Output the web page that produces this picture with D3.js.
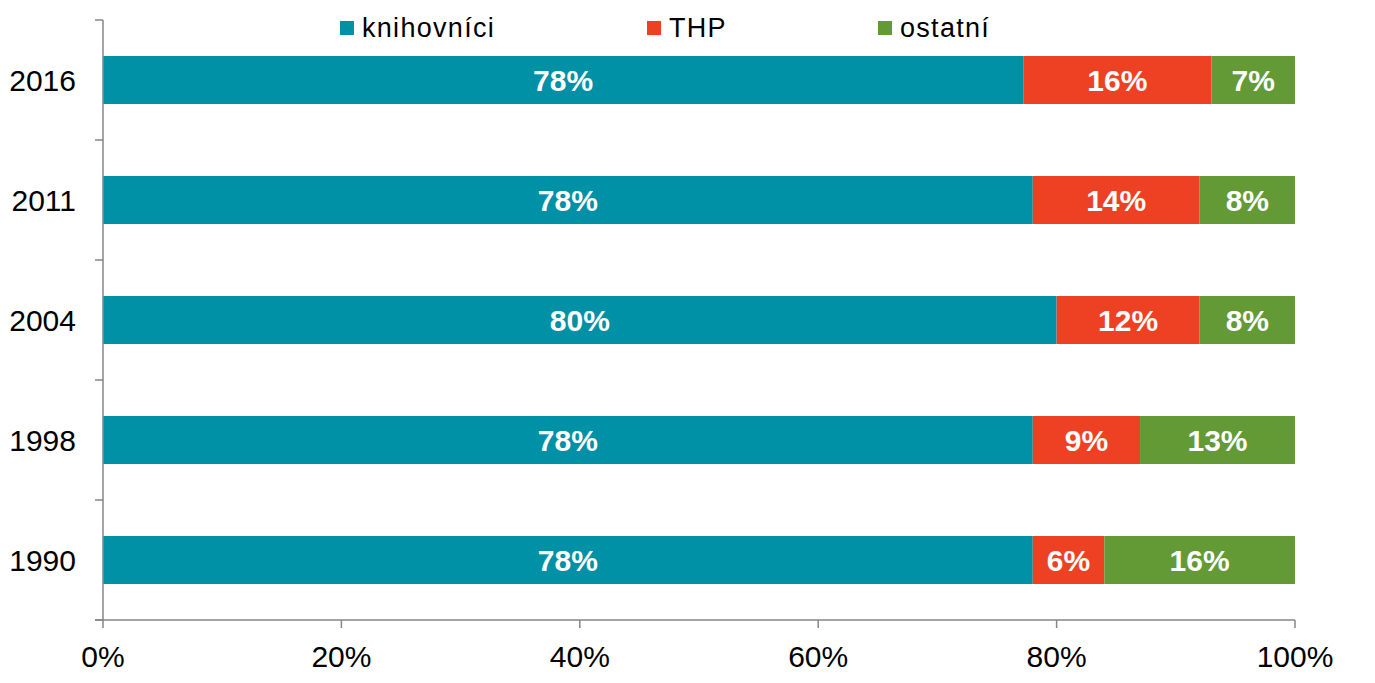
<!DOCTYPE html>
<html>
<head>
<meta charset="utf-8">
<script src="https://cdn.jsdelivr.net/npm/d3@7"></script>
<style>
  body { margin: 0; background: #fff; }
  text { font-family: "Liberation Sans", Arial, sans-serif; }
</style>
</head>
<body>
<div id="chart"></div>
<script>
// data (bar lengths) and the printed labels
let years = ['2016', '2011', '2004', '1998', '1990']
let series = ['knihovníci', 'THP', 'ostatní']
let knihovnici = [77.2, 78, 80, 78, 78]
let thp = [15.8, 14, 12, 9, 6]
let ostatni = [7.0, 8, 8, 13, 16]
let knihovniciLabels = ['78%', '78%', '80%', '78%', '78%']
let thpLabels = ['16%', '14%', '12%', '9%', '6%']
let ostatniLabels = ['7%', '8%', '8%', '13%', '16%']
let xTicks = [0, 20, 40, 60, 80, 100]

let colors = ['#0091a7', '#ee4124', '#649a36']

let width = 1375
let height = 683
let margin = { top: 20, left: 103, right: 80, bottom: 63 }

let svg = d3.select('#chart')
  .append('svg')
  .attr('width', width)
  .attr('height', height)

let xScale = d3.scaleLinear().domain([0, 100]).range([margin.left, width - margin.right])
let yScale = d3.scaleBand()
  .domain(years)
  .range([margin.top, height - margin.bottom])
  .paddingInner(0.6)
  .paddingOuter(0.3)

let rows = years.map((y, i) => ({
  year: y,
  values: [knihovnici[i], thp[i], ostatni[i]],
  labels: [knihovniciLabels[i], thpLabels[i], ostatniLabels[i]]
}))

let stacked = rows.map(r => {
  let start = 0
  return r.values.map((v, j) => {
    let seg = { year: r.year, x0: start, x1: start + v, label: r.labels[j], color: colors[j] }
    start += v
    return seg
  })
}).flat()

svg.append('g')
  .selectAll('rect')
  .data(stacked)
  .enter().append('rect')
  .attr('x', d => xScale(d.x0))
  .attr('width', d => xScale(d.x1) - xScale(d.x0))
  .attr('y', d => yScale(d.year))
  .attr('height', yScale.bandwidth())
  .attr('fill', d => d.color)

svg.append('g')
  .selectAll('text')
  .data(stacked)
  .enter().append('text')
  .attr('x', d => (xScale(d.x0) + xScale(d.x1)) / 2)
  .attr('y', d => yScale(d.year) + yScale.bandwidth() / 2 + 11)
  .attr('text-anchor', 'middle')
  .attr('fill', '#fff')
  .attr('font-weight', 'bold')
  .attr('font-size', 30)
  .text(d => d.label)

// axes
let axisColor = '#868686'
let step = yScale.step()
let bounds = d3.range(years.length + 1).map(i => margin.top + i * step)

let axes = svg.append('g').attr('stroke', axisColor).attr('stroke-width', 1.5)

axes.append('line')
  .attr('x1', xScale(0)).attr('x2', xScale(0))
  .attr('y1', margin.top).attr('y2', bounds[bounds.length - 1])

axes.selectAll('.ytick')
  .data(bounds)
  .enter().append('line')
  .attr('x1', xScale(0) - 8).attr('x2', xScale(0))
  .attr('y1', d => d).attr('y2', d => d)

let xAxisY = bounds[bounds.length - 1]
axes.append('line')
  .attr('x1', xScale(0) - 8).attr('x2', xScale(100))
  .attr('y1', xAxisY).attr('y2', xAxisY)

axes.selectAll('.xtick')
  .data(xTicks)
  .enter().append('line')
  .attr('x1', d => xScale(d)).attr('x2', d => xScale(d))
  .attr('y1', xAxisY).attr('y2', xAxisY + 8)

svg.append('g')
  .selectAll('text')
  .data(xTicks)
  .enter().append('text')
  .attr('x', d => xScale(d))
  .attr('y', xAxisY + 47)
  .attr('text-anchor', 'middle')
  .attr('font-size', 30)
  .attr('fill', '#000')
  .text(d => d + '%')

svg.append('g')
  .selectAll('text')
  .data(years)
  .enter().append('text')
  .attr('x', 76)
  .attr('y', d => yScale(d) + yScale.bandwidth() / 2 + 11)
  .attr('text-anchor', 'end')
  .attr('font-size', 30)
  .attr('fill', '#000')
  .text(d => d)

// legend
let legendX = [340, 647, 878]
let legend = svg.append('g')
  .selectAll('g')
  .data(series)
  .enter().append('g')
  .attr('transform', (d, i) => 'translate(' + legendX[i] + ',0)')

legend.append('rect')
  .attr('x', 0).attr('y', 21)
  .attr('width', 14).attr('height', 14)
  .attr('fill', (d, i) => colors[i])

legend.append('text')
  .attr('x', 22)
  .attr('y', 37)
  .attr('font-size', 27)
  .attr('letter-spacing', 1.3)
  .attr('fill', '#000')
  .text(d => d)
</script>
</body>
</html>
